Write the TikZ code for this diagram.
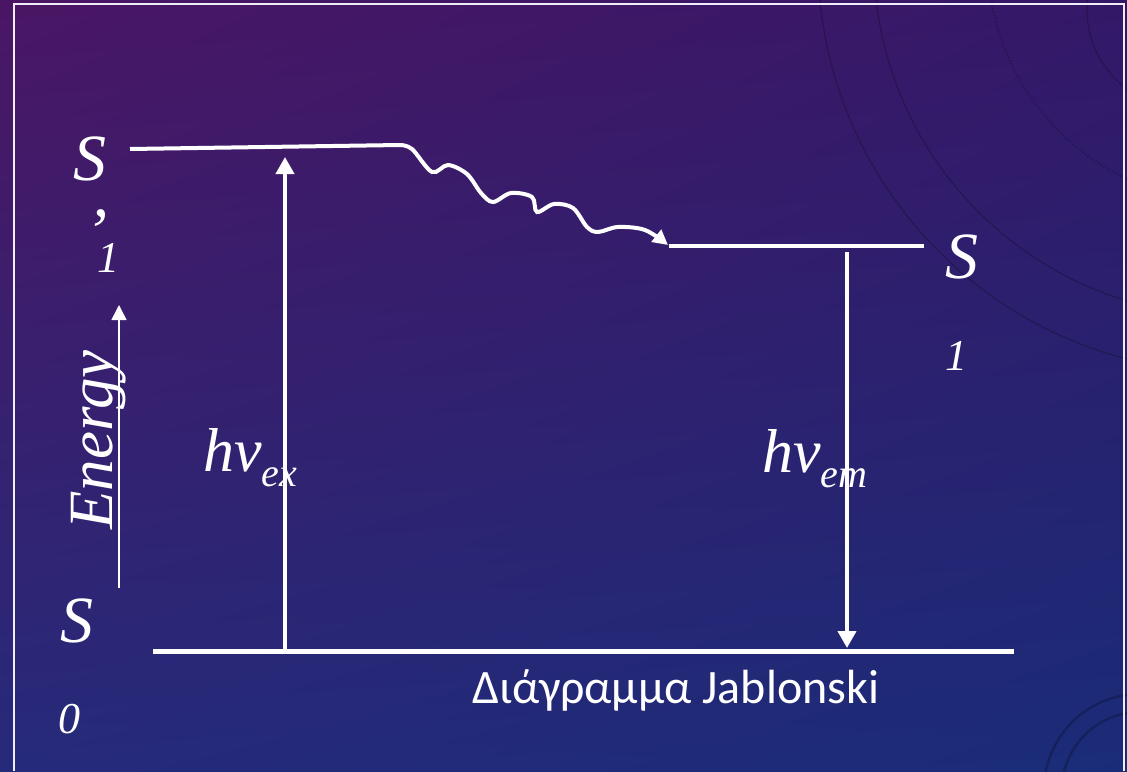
\documentclass[tikz,border=0pt]{standalone}
\usepackage{fontspec}
\setmainfont{Liberation Serif}
\newfontfamily\captionfont{Carlito}
\usetikzlibrary{arrows.meta,shadings}
\definecolor{bgtl}{RGB}{74,22,100}
\definecolor{bgtr}{RGB}{52,24,104}
\definecolor{bgbl}{RGB}{38,42,122}
\definecolor{bgbr}{RGB}{26,44,120}
\definecolor{framecol}{RGB}{240,236,248}
\begin{document}
\begin{tikzpicture}[x=1pt,y=-1pt,
  statelbl/.style={text=white, font=\fontsize{66}{66}\selectfont\itshape, anchor=base west, inner sep=0pt},
  stateidx/.style={text=white, font=\fontsize{44}{44}\selectfont\itshape, anchor=base west, inner sep=0pt},
  photonlbl/.style={text=white, font=\fontsize{62}{62}\selectfont\itshape, anchor=base west, inner sep=0pt},
  level/.style={white, line width=4pt},
  trans/.style={white, line width=4pt, -{Triangle[width=18pt,length=17pt]}},
  faintarc/.style={black, opacity=0.22, line width=1.2pt}]
\useasboundingbox (0,0) rectangle (1127,771);
\shade[upper left=bgtl, upper right=bgtr, lower left=bgbl, lower right=bgbr] (0,0) rectangle (1127,771);
\begin{scope}
\clip (0,0) rectangle (1127,771);
\draw[faintarc] (1230,-40) circle[radius=412];
\draw[faintarc] (1230,-40) circle[radius=356];
\draw[faintarc, dotted, line width=2pt] (1230,-40) circle[radius=242];
\draw[faintarc] (1185,10) circle[radius=98];
\draw[faintarc, line width=2.5pt] (1140,790) circle[radius=96];
\draw[faintarc, line width=2.5pt] (1140,790) circle[radius=78];
\end{scope}
\draw[framecol, line width=2pt] (14,771) -- (14,4) -- (1124,4) -- (1124,771);
\node[statelbl] (s1plbl) at (73,180) {S};
\node[statelbl] (s1pprime) at (85,225) {\raisebox{-0.43em}[17pt][0pt]{’}};
\node[stateidx] (s1pidx) at (97,272) {1};
\node[statelbl] (s1lbl) at (945,278) {S};
\node[stateidx] (s1idx) at (945,370) {1};
\node[statelbl] (s0lbl) at (60,642) {S};
\node[stateidx] (s0idx) at (58,733) {0};
\node[photonlbl] (hvex) at (203,471) {hv\raisebox{-15pt}{\fontsize{40}{40}\selectfont ex}};
\node[photonlbl] (hvem) at (762,472) {hv\raisebox{-15pt}{\fontsize{40}{40}\selectfont em}};
\node[text=white, font=\fontsize{63}{63}\selectfont\itshape, anchor=base west, inner sep=0pt, rotate=90] (energy) at (112,530) {Energy};
\node[text=white, font=\fontsize{48}{48}\selectfont\captionfont, anchor=base west, inner sep=0pt] (caption) at (472,703) {Διάγραμμα Jablonski};
\coordinate (s1pl) at (130,149);
\coordinate (s1pk) at (400,145);
\coordinate (s1pend) at (668,245);
\coordinate (s1l) at (669,246);
\coordinate (s1r) at (924,246);
\coordinate (s0l) at (153,651);
\coordinate (s0r) at (1014,651);
\coordinate (exbot) at (285,649);
\coordinate (extop) at (285,157);
\coordinate (emtop) at (847,252);
\coordinate (embot) at (847,648);
\coordinate (ebot) at (119,588);
\coordinate (etop) at (119,305);
\draw[level] (s1pl) -- (s1pk);
\draw[white, line width=4pt, -{Triangle[width=15pt,length=15pt]}] plot[smooth, tension=0.55] coordinates {(s1pk) (412,149) (432,172) (448,165) (467,174) (481,193) (493,202) (511,193) (532,197) (537,212) (554,204) (573,208) (587,227) (598,232) (618,227) (645,230) (s1pend)};
\draw[level] (s1l) -- (s1r);
\draw[white, line width=5pt] (s0l) -- (s0r);
\draw[trans] (exbot) -- (extop);
\draw[trans] (emtop) -- (embot);
\draw[white, line width=1.5pt, -{Triangle[width=15pt,length=15pt]}] (ebot) -- (etop);
\end{tikzpicture}
\end{document}
